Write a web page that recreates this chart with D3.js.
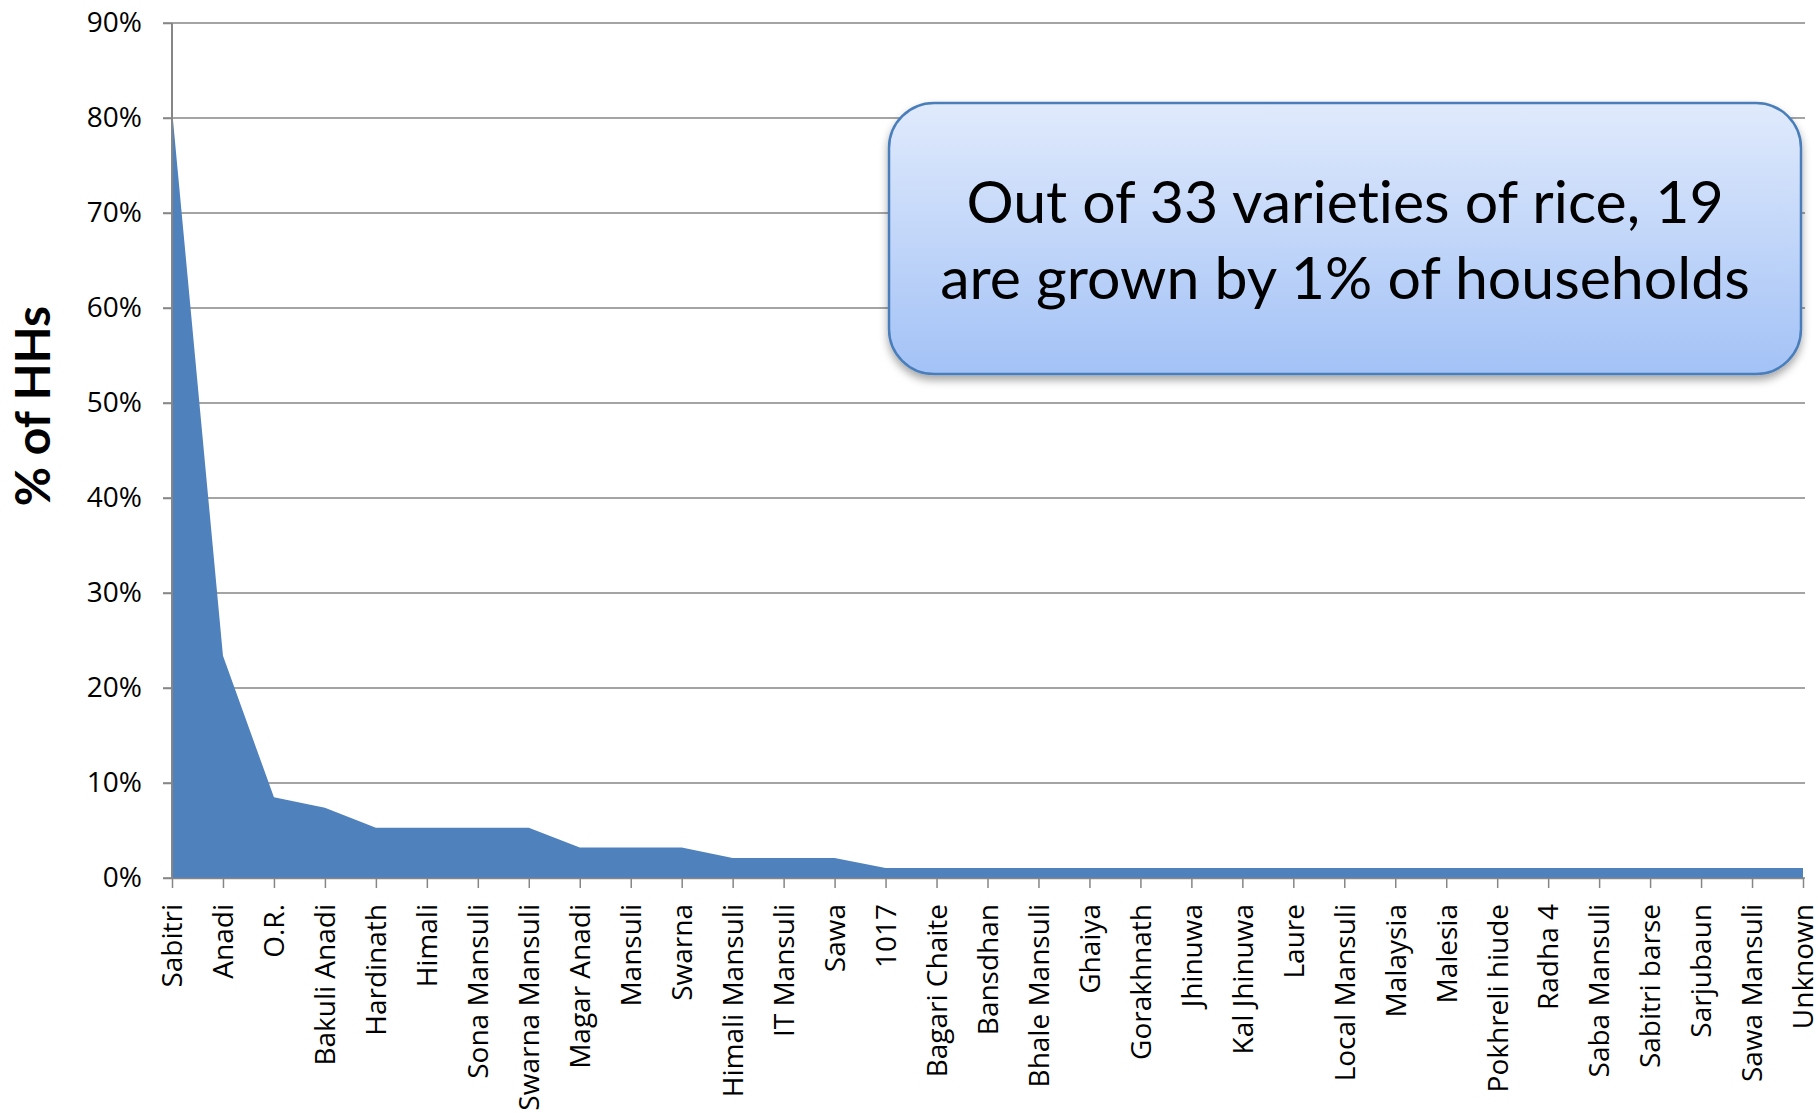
<!DOCTYPE html>
<html>
<head>
<meta charset="utf-8">
<script src="https://cdn.jsdelivr.net/npm/d3@7"></script>
<style>
  body { margin: 0; background: #fff; }
  .tick text { fill: #000; }
  text { font-variant-ligatures: none; }
</style>
</head>
<body>
<div id="chart"></div>
<script>
// varieties of rice (x categories)
var varieties = ["Sabitri", "Anadi", "O.R.", "Bakuli Anadi", "Hardinath", "Himali",
  "Sona Mansuli", "Swarna Mansuli", "Magar Anadi", "Mansuli", "Swarna",
  "Himali Mansuli", "IT Mansuli", "Sawa", "1017", "Bagari Chaite", "Bansdhan",
  "Bhale Mansuli", "Ghaiya", "Gorakhnath", "Jhinuwa", "Kal Jhinuwa", "Laure",
  "Local Mansuli", "Malaysia", "Malesia", "Pokhreli hiude", "Radha 4",
  "Saba Mansuli", "Sabitri barse", "Sarjubaun", "Sawa Mansuli", "Unknown"];

// % of households growing each variety
var pctHHs = [80.9, 23.4, 8.5, 7.4, 5.3, 5.3, 5.3, 5.3, 3.2, 3.2, 3.2,
  2.1, 2.1, 2.1, 1.06, 1.06, 1.06, 1.06, 1.06, 1.06, 1.06, 1.06, 1.06,
  1.06, 1.06, 1.06, 1.06, 1.06, 1.06, 1.06, 1.06, 1.06, 1.06];

var yTicks = [0, 10, 20, 30, 40, 50, 60, 70, 80, 90];

var calloutLines = ["Out of 33 varieties of rice, 19", "are grown by 1% of households"];

var W = 1818, H = 1113;
var m = {top: 23, right: 15, bottom: 235, left: 172};
var w = W - m.left - m.right;
var h = H - m.top - m.bottom;

var svg = d3.select("#chart")
            .append("svg")
            .attr("width", W)
            .attr("height", H);

var defs = svg.append("defs");
var grad = defs.append("linearGradient")
               .attr("id", "boxGrad")
               .attr("x1", 0).attr("y1", 0).attr("x2", 0).attr("y2", 1);
grad.append("stop").attr("offset", "0%").attr("stop-color", "#e0eafc");
grad.append("stop").attr("offset", "100%").attr("stop-color", "#a3c2f6");

var shadow = defs.append("filter").attr("id", "shadow")
                 .attr("x", "-10%").attr("y", "-10%").attr("width", "120%").attr("height", "130%");
shadow.append("feDropShadow")
      .attr("dx", 0).attr("dy", 5).attr("stdDeviation", 4)
      .attr("flood-color", "#000").attr("flood-opacity", 0.35);

var g = svg.append("g")
           .attr("transform", "translate(" + m.left + "," + m.top + ")");

// scales
var xScale = d3.scalePoint()
               .domain(varieties)
               .range([0, w]);

var yScale = d3.scaleLinear()
               .domain([0, 90])
               .range([h, 0]);

// gridlines
g.append("g")
 .selectAll("line")
 .data(yTicks)
 .enter()
 .append("line")
 .attr("x1", -9)
 .attr("x2", w + 2)
 .attr("y1", (d) => yScale(d))
 .attr("y2", (d) => yScale(d))
 .attr("stroke", "#868686")
 .attr("stroke-width", 1.5);

// area
var area = d3.area()
             .x((d, i) => xScale(varieties[i]))
             .y0(h)
             .y1((d) => yScale(d));

g.append("path")
 .datum(pctHHs)
 .attr("d", area)
 .attr("fill", "#4f81bd");

// y axis
var yAxis = d3.axisLeft(yScale)
              .tickValues(yTicks)
              .tickSize(9)
              .tickPadding(21)
              .tickFormat((d) => d + "%");

var yG = g.append("g").call(yAxis);
yG.select(".domain").remove();
yG.selectAll("line").attr("stroke", "#868686").attr("stroke-width", 1.5);
yG.selectAll("text")
  .style("font-family", "'Open Sans', sans-serif")
  .style("font-size", "28px");

g.append("line")
 .attr("x1", 0).attr("x2", 0)
 .attr("y1", 0).attr("y2", h)
 .attr("stroke", "#868686")
 .attr("stroke-width", 2);

// x axis
var xAxis = d3.axisBottom(xScale)
              .tickSize(10)
              .tickSizeOuter(0);

var xG = g.append("g")
          .attr("transform", "translate(0," + h + ")")
          .call(xAxis);
xG.select(".domain").attr("stroke", "#868686").attr("stroke-width", 1.5);
xG.selectAll("line").attr("stroke", "#868686").attr("stroke-width", 1.5);
xG.selectAll("text")
  .style("font-family", "'Open Sans', sans-serif")
  .style("font-size", "28px")
  .attr("text-anchor", "end")
  .attr("transform", "rotate(-90)")
  .attr("x", -26)
  .attr("y", 0)
  .attr("dy", "0.35em");

// y axis title
svg.append("text")
   .attr("transform", "translate(50," + (m.top + 383) + ") rotate(-90)")
   .attr("text-anchor", "middle")
   .style("font-family", "Lato, sans-serif")
   .style("font-weight", "bold")
   .style("font-size", "48px")
   .text("% of HHs");

// callout box
var box = {x: 889, y: 103, w: 912, h: 271};
svg.append("rect")
   .attr("x", box.x)
   .attr("y", box.y)
   .attr("width", box.w)
   .attr("height", box.h)
   .attr("rx", 45)
   .attr("ry", 45)
   .attr("fill", "url(#boxGrad)")
   .attr("stroke", "#4a7ebb")
   .attr("stroke-width", 2.5)
   .attr("filter", "url(#shadow)");

svg.append("g")
   .selectAll("text")
   .data(calloutLines)
   .enter()
   .append("text")
   .attr("x", box.x + box.w / 2)
   .attr("y", (d, i) => 223 + i * 76)
   .attr("text-anchor", "middle")
   .style("font-family", "Lato, sans-serif")
   .style("font-size", "59px")
   .text((d) => d);
</script>
</body>
</html>
